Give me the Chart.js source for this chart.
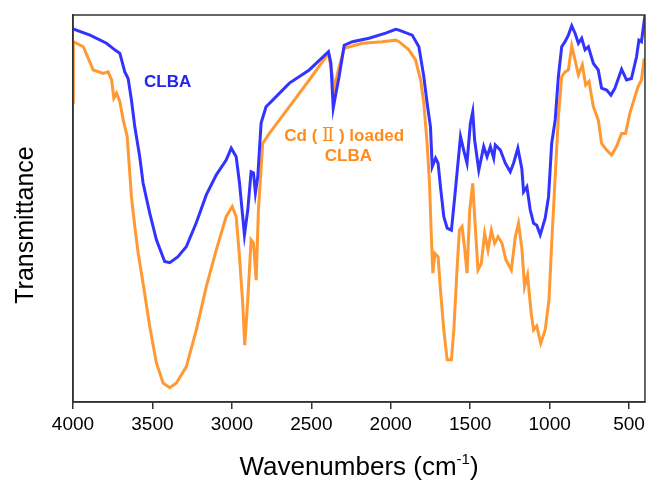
<!DOCTYPE html>
<html>
<head>
<meta charset="utf-8">
<script src="https://cdn.jsdelivr.net/npm/chart.js@4/dist/chart.umd.min.js"></script>
<style>
  html, body { margin: 0; padding: 0; background: #fff; }
  #wrap { width: 649px; height: 480px; }
</style>
</head>
<body>
<div id="wrap"><canvas id="ftir"></canvas></div>
<script>
// CLBA spectrum (wavenumber, transmittance a.u.)
const clbaWn = [4000, 3893, 3789, 3737, 3705, 3674, 3653, 3632, 3611, 3580, 3559, 3517, 3475, 3423, 3391, 3341, 3287, 3224, 3161, 3098, 3036, 3004, 2973, 2952, 2921, 2900, 2879, 2864, 2852, 2837, 2816, 2785, 2743, 2638, 2513, 2392, 2377, 2362, 2345, 2325, 2293, 2241, 2137, 2032, 1969, 1948, 1865, 1823, 1792, 1771, 1750, 1739, 1718, 1702, 1687, 1666, 1645, 1618, 1593, 1561, 1541, 1520, 1499, 1484, 1472, 1446, 1415, 1394, 1373, 1352, 1342, 1310, 1279, 1248, 1227, 1200, 1175, 1164, 1143, 1122, 1101, 1081, 1059, 1028, 1007, 987, 965, 945, 924, 903, 882, 861, 840, 819, 798, 777, 756, 725, 694, 673, 641, 614, 589, 547, 516, 485, 453, 438, 422, 400];
const clbaT = [96.4, 94.8, 92.7, 91.0, 90.1, 85.3, 83.6, 78.0, 71.1, 63.4, 56.6, 48.8, 41.9, 36.3, 36.0, 37.5, 40.1, 46.3, 53.5, 58.7, 62.5, 65.6, 63.4, 56.6, 43.2, 49.6, 59.5, 59.2, 54.0, 58.2, 72.1, 76.3, 78.0, 82.4, 85.8, 90.5, 87.6, 76.0, 79.8, 84.1, 92.2, 93.1, 94.0, 95.3, 96.3, 96.1, 94.8, 91.8, 84.1, 77.2, 71.1, 60.8, 63.0, 61.7, 55.6, 47.9, 44.9, 44.4, 54.8, 68.6, 65.1, 61.7, 72.0, 75.0, 67.7, 59.9, 66.0, 63.4, 66.0, 63.0, 66.4, 65.1, 61.7, 59.5, 61.7, 65.6, 60.3, 54.3, 55.6, 49.6, 46.2, 45.7, 43.2, 47.5, 53.0, 66.8, 72.9, 84.1, 91.8, 93.1, 94.8, 97.2, 95.3, 92.7, 94.0, 91.0, 91.8, 87.5, 85.8, 81.1, 80.6, 79.3, 81.1, 86.0, 83.2, 83.6, 89.2, 93.5, 93.1, 100];

// Cd(II) loaded CLBA spectrum
const cdWn = [4000, 3998, 3935, 3873, 3810, 3779, 3757, 3743, 3726, 3705, 3684, 3659, 3632, 3611, 3590, 3559, 3517, 3475, 3433, 3391, 3349, 3287, 3224, 3161, 3098, 3036, 2998, 2973, 2952, 2932, 2919, 2900, 2879, 2864, 2847, 2833, 2806, 2764, 2638, 2513, 2392, 2367, 2354, 2335, 2293, 2179, 2053, 1969, 1948, 1886, 1844, 1812, 1792, 1771, 1756, 1746, 1735, 1722, 1702, 1687, 1666, 1645, 1618, 1603, 1583, 1568, 1551, 1534, 1520, 1503, 1484, 1472, 1451, 1430, 1409, 1388, 1367, 1346, 1325, 1300, 1275, 1241, 1216, 1196, 1175, 1158, 1139, 1116, 1101, 1081, 1056, 1028, 1004, 987, 965, 945, 924, 903, 882, 861, 840, 819, 794, 773, 752, 725, 694, 673, 641, 610, 579, 547, 522, 495, 463, 443, 422, 405];
const cdT = [77.3, 93.1, 91.8, 85.8, 84.9, 85.3, 83.2, 78.5, 79.8, 77.6, 72.9, 68.6, 53.0, 45.3, 38.5, 30.7, 19.5, 10.1, 4.9, 3.7, 4.9, 9.1, 18.6, 29.8, 39.3, 47.9, 50.5, 47.9, 37.5, 25.6, 14.7, 26.4, 41.9, 41.1, 31.5, 49.6, 66.8, 69.4, 76.3, 83.2, 90.1, 84.1, 81.1, 84.9, 91.4, 92.7, 93.1, 93.5, 93.1, 91.0, 88.4, 83.2, 77.2, 66.8, 56.5, 44.4, 33.3, 38.4, 37.5, 28.9, 18.6, 10.9, 10.9, 18.6, 34.1, 44.4, 45.3, 39.3, 33.3, 49.6, 56.5, 47.9, 34.1, 35.8, 43.6, 39.3, 44.4, 41.0, 42.7, 41.0, 36.7, 34.1, 42.7, 46.2, 39.8, 29.8, 32.8, 22.9, 18.6, 19.6, 15.2, 18.6, 26.4, 41.0, 58.2, 73.7, 84.1, 85.3, 85.8, 92.0, 88.4, 84.5, 87.1, 81.9, 82.8, 76.3, 72.9, 66.8, 65.1, 63.8, 66.0, 69.4, 69.4, 74.6, 78.9, 81.5, 83.2, 88.8];

const xTicks = [4000, 3500, 3000, 2500, 2000, 1500, 1000, 500];

const toPoints = (wn, t) => wn.map((w, i) => ({ x: w, y: t[i] }));

const FONT = '"Liberation Sans", Arial, sans-serif';
const SERIF = '"Liberation Serif", "DejaVu Serif", serif';

// draw a row of [text, font, dy] pieces centred on cx
function drawRow(ctx, parts, cx, cy) {
  let total = 0;
  parts.forEach(p => { ctx.font = p[1]; total += ctx.measureText(p[0]).width; });
  let x = cx - total / 2;
  parts.forEach(p => {
    ctx.font = p[1];
    ctx.fillText(p[0], x, cy + (p[2] || 0));
    x += ctx.measureText(p[0]).width;
  });
}

// frame, in-plot labels, axis titles
const extras = {
  id: 'extras',
  afterDraw(chart) {
    const { ctx, chartArea: a, scales: { x, y } } = chart;
    ctx.save();
    ctx.strokeStyle = '#333';
    ctx.lineWidth = 1.5;
    ctx.strokeRect(a.left, a.top, a.right - a.left, a.bottom - a.top);

    ctx.textAlign = 'left';
    ctx.textBaseline = 'middle';
    const bold = 'bold 17px ' + FONT;
    ctx.fillStyle = '#2424F0';
    drawRow(ctx, [['CLBA', bold]], x.getPixelForValue(3404), y.getPixelForValue(82.7));
    ctx.fillStyle = '#FF8C1A';
    drawRow(ctx, [['Cd ( ', bold], ['Ⅱ', '18px ' + SERIF], [' ) loaded', bold]],
      x.getPixelForValue(2293), y.getPixelForValue(68.7));
    drawRow(ctx, [['CLBA', bold]], x.getPixelForValue(2267), y.getPixelForValue(63.5));

    // x title with superscript
    ctx.fillStyle = '#000';
    ctx.textBaseline = 'alphabetic';
    drawRow(ctx, [['Wavenumbers (cm', '26px ' + FONT], ['-1', '15px ' + FONT, -11], [')', '26px ' + FONT]],
      (a.left + a.right) / 2, 475);

    // y title
    ctx.translate(26, 225);
    ctx.rotate(-Math.PI / 2);
    ctx.textAlign = 'center';
    ctx.textBaseline = 'middle';
    ctx.font = '25px ' + FONT;
    ctx.fillText('Transmittance', 0, 0);
    ctx.restore();
  }
};

new Chart(document.getElementById('ftir'), {
  type: 'line',
  data: {
    datasets: [
      {
        label: 'CLBA',
        data: toPoints(clbaWn, clbaT),
        borderColor: '#3333FF',
        borderWidth: 3,
        pointRadius: 0,
        tension: 0
      },
      {
        label: 'Cd (Ⅱ) loaded CLBA',
        data: toPoints(cdWn, cdT),
        borderColor: '#FF9933',
        borderWidth: 3,
        pointRadius: 0,
        tension: 0
      }
    ]
  },
  options: {
    responsive: true,
    maintainAspectRatio: false,
    animation: false,
    layout: { padding: { top: 15, right: 3, left: 0, bottom: 0 } },
    scales: {
      x: {
        type: 'linear',
        reverse: true,
        min: 400,
        max: 4000,
        afterBuildTicks: (s) => { s.ticks = xTicks.map(v => ({ value: v })); },
        afterFit: (s) => { s.height = 78; },
        grid: { drawOnChartArea: false, drawTicks: true, tickLength: 7, color: '#333', lineWidth: 1.5 },
        border: { color: '#333', width: 1.5 },
        ticks: { color: '#000', font: { family: FONT, size: 19 }, padding: 4, maxRotation: 0, callback: (v) => String(v) }
      },
      y: {
        min: 0,
        max: 100,
        afterFit: (s) => { s.width = 73; },
        grid: { display: false },
        border: { color: '#333', width: 1.5 },
        ticks: { display: false }
      }
    },
    plugins: {
      legend: { display: false },
      tooltip: { enabled: false }
    }
  },
  plugins: [extras]
});
</script>
</body>
</html>
